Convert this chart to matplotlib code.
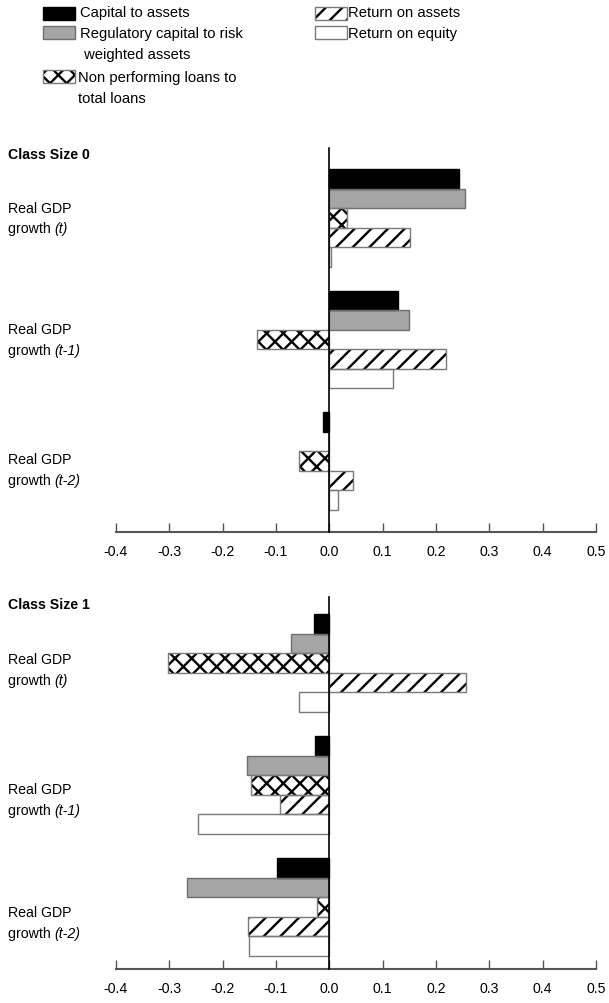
import matplotlib
matplotlib.use("Agg")
import matplotlib.pyplot as plt
from matplotlib.patches import Rectangle
import numpy as np

# ---------------- data ----------------
series_names = ["Capital to assets",
                "Regulatory capital to risk\n weighted assets",
                "Non performing loans to\ntotal loans",
                "Return on assets",
                "Return on equity"]
lag_labels = ["(t)", "(t-1)", "(t-2)"]
panel_titles = ["Class Size 0", "Class Size 1"]

# values per lag: [t, t-1, t-2]
cs0_capital = [0.243, 0.129, -0.011]
cs0_regcap = [0.255, 0.150, 0.0]
cs0_npl = [0.033, -0.135, -0.056]
cs0_roa = [0.151, 0.219, 0.044]
cs0_roe = [0.003, 0.119, 0.017]

cs1_capital = [-0.028, -0.026, -0.098]
cs1_regcap = [-0.072, -0.154, -0.266]
cs1_npl = [-0.303, -0.146, -0.023]
cs1_roa = [0.257, -0.092, -0.153]
cs1_roe = [-0.056, -0.247, -0.151]

xticks = [-0.4, -0.3, -0.2, -0.1, 0.0, 0.1, 0.2, 0.3, 0.4, 0.5]

# ---------------- style ----------------
plt.rcParams['font.family'] = ['Liberation Sans', 'DejaVu Sans']
plt.rcParams['font.size'] = 10.2
plt.rcParams['hatch.linewidth'] = 1.7

fills = ['#000000', '#a5a5a5', '#ffffff', '#ffffff', '#ffffff']
hatches = [None, None, 'xx', '//', None]
edges = ['#000000', '#6e6e6e', '#7a7a7a', '#7a7a7a', '#7a7a7a']

W, H = 609, 1004
fig = plt.figure(figsize=(W / 100, H / 100), dpi=100)


def fx(px):
    return px / W


def fy(py):
    return 1 - py / H


bar_h = 0.16
FS = 10.2

panels = [
    dict(data=[cs0_capital, cs0_regcap, cs0_npl, cs0_roa, cs0_roe],
         top=149, bottom=533, ylim=(2.584, -0.576), title_y=155,
         label_off=[0.0, 0.0, 0.066]),
    dict(data=[cs1_capital, cs1_regcap, cs1_npl, cs1_roa, cs1_roe],
         top=598, bottom=970, ylim=(2.508, -0.541), title_y=605,
         label_off=[0.05, 0.115, 0.13]),
]

for p, title in zip(panels, panel_titles):
    ax = fig.add_axes([fx(116), fy(p['bottom']), fx(596) - fx(116),
                       fy(p['top']) - fy(p['bottom'])])
    centers = np.arange(len(lag_labels))
    for i, vals in enumerate(p['data']):
        pos = centers + (i - 2) * bar_h
        ax.barh(pos, vals, height=bar_h, color=fills[i], edgecolor='black',
                linewidth=0, hatch=hatches[i], zorder=2)
        ax.barh(pos, vals, height=bar_h, fill=False, edgecolor=edges[i],
                linewidth=1.0, zorder=3)
    ax.set_xlim(-0.4, 0.5)
    ax.set_ylim(*p['ylim'])
    ax.set_xticks(xticks)
    ax.set_xticklabels([f"{v:.1f}" for v in xticks])
    ax.set_yticks([])
    for s in ['top', 'right']:
        ax.spines[s].set_visible(False)
    ax.spines['left'].set_position(('data', 0))
    ax.spines['left'].set_color('black')
    ax.spines['left'].set_linewidth(1.2)
    ax.spines['left'].set_zorder(4)
    ax.spines['bottom'].set_color('#555555')
    ax.spines['bottom'].set_linewidth(1.5)
    ax.tick_params(axis='x', direction='in', length=6.5, width=1.0,
                   color='#555555', pad=9, labelsize=FS)
    ax.patch.set_visible(False)

    # panel title
    fig.text(fx(8), fy(p['title_y']), title, fontweight='bold',
             ha='left', va='center', fontsize=FS)
    # row labels
    trans = matplotlib.transforms.blended_transform_factory(fig.transFigure, ax.transData)
    for c, lag, off in zip(centers, lag_labels, p['label_off']):
        yc = c + off
        ax.text(fx(8), yc - 0.086, "Real GDP", transform=trans,
                ha='left', va='center', fontsize=FS)
        g = ax.text(fx(8), yc + 0.086, "growth ", transform=trans,
                    ha='left', va='center', fontsize=FS)
        ax.annotate(lag, xy=(1, 0), xycoords=g, ha='left', va='bottom',
                    fontsize=FS, fontstyle='italic')

# ---------------- legend ----------------
# (series index, patch x0, patch x1, patch top, text x, first-line centre y)
legend_items = [
    (0, 43, 75, 8, 80, 14),
    (1, 43, 75, 27, 80, 35),
    (2, 43, 75, 71, 78, 79),
    (3, 315, 347, 8, 348, 14),
    (4, 315, 347, 27, 348, 35),
]
LFS = 10.6
for idx, x0, x1, ytop, tx, ty in legend_items:
    rh = 13
    r = Rectangle((fx(x0), fy(ytop + rh)), fx(x1) - fx(x0), rh / H,
                  transform=fig.transFigure, facecolor=fills[idx],
                  edgecolor='black', linewidth=0, hatch=hatches[idx])
    fig.add_artist(r)
    r2 = Rectangle((fx(x0), fy(ytop + rh)), fx(x1) - fx(x0), rh / H,
                   transform=fig.transFigure, fill=False,
                   edgecolor=edges[idx], linewidth=1.0)
    fig.add_artist(r2)
    fig.text(fx(tx), fy(ty - 8), series_names[idx], ha='left', va='top',
             fontsize=LFS, linespacing=1.6)

fig.savefig("out.png", dpi=100)
